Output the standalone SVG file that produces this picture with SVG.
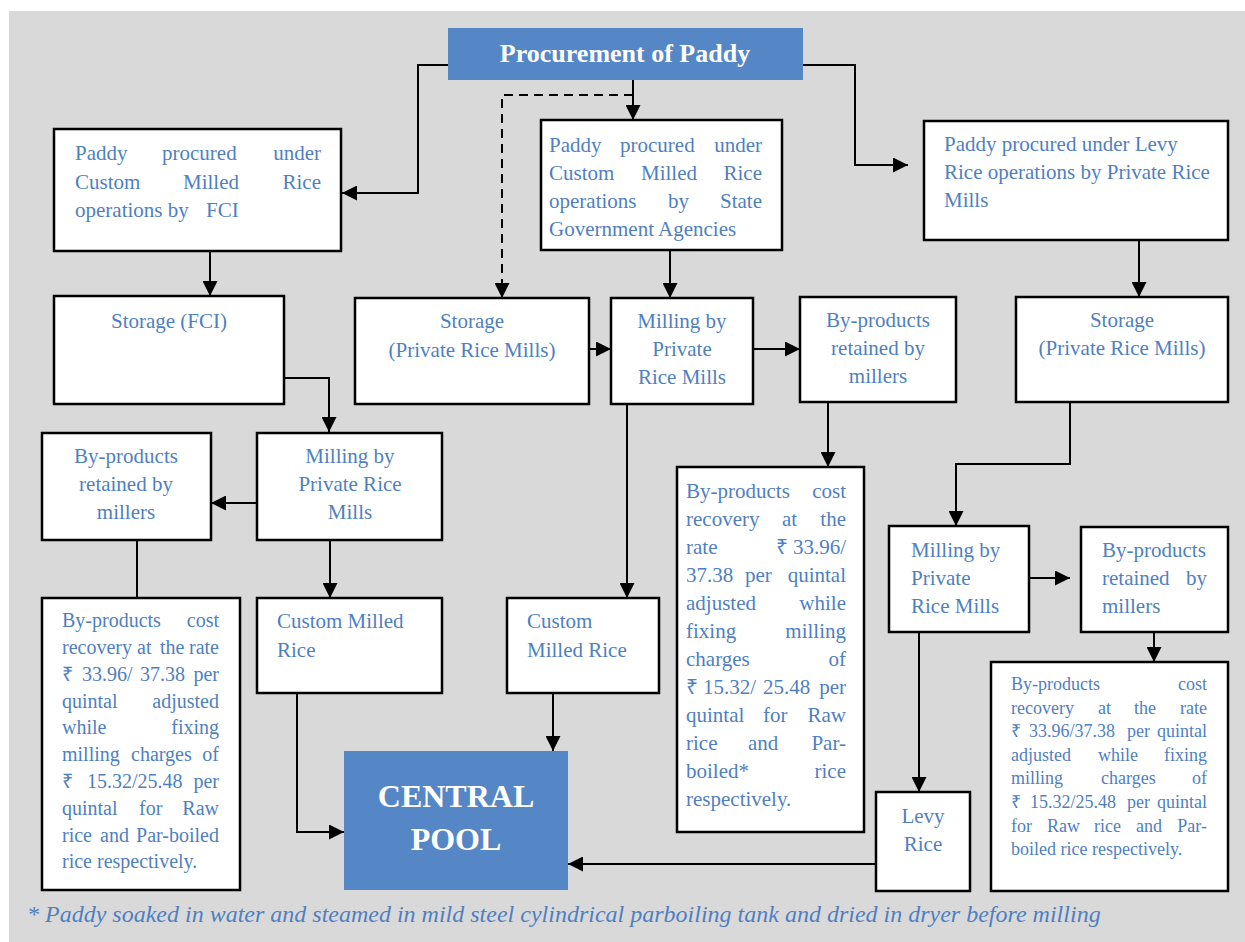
<svg xmlns="http://www.w3.org/2000/svg" width="1245" height="942" viewBox="0 0 1245 942">
<style>
.box{fill:#fff;stroke:#000;stroke-width:2.5}
.blue{fill:#5586C6}
.t{font-family:"Liberation Serif","Times New Roman",serif;font-size:21px;fill:#4F7FC1}
.s20{font-size:20px}
.s18{font-size:18px}
.c{text-anchor:middle}
.e{text-anchor:end}
.hd{font-family:"Liberation Serif","Times New Roman",serif;font-weight:bold;fill:#fff}
.ln{fill:none;stroke:#000;stroke-width:2}
.fn{font-family:"Liberation Serif","Times New Roman",serif;font-style:italic;font-size:24px;fill:#4F7FC1}
</style>
<defs>
<marker id="ah" viewBox="0 0 10 10" refX="10" refY="5" markerWidth="15" markerHeight="15" markerUnits="userSpaceOnUse" orient="auto"><path d="M0,0 L10,5 L0,10 z" fill="#000"/></marker>
</defs>
<rect x="0" y="0" width="1245" height="942" fill="#fff"/>
<rect x="9" y="11" width="1236" height="931" fill="#D9D9D9"/>

<g id="connectors">
<polyline class="ln" points="448,65 418,65 418,193 342,193" marker-end="url(#ah)"/>
<line class="ln" x1="633" y1="80" x2="633" y2="120" marker-end="url(#ah)"/>
<polyline class="ln" points="633,95 502,95 502,298" stroke-dasharray="9,6" marker-end="url(#ah)"/>
<polyline class="ln" points="803,65 855,65 855,165 908,165" marker-end="url(#ah)"/>
<line class="ln" x1="210" y1="251" x2="210" y2="296" marker-end="url(#ah)"/>
<polyline class="ln" points="284,378 329,378 329,432" marker-end="url(#ah)"/>
<line class="ln" x1="257" y1="503" x2="211" y2="503" marker-end="url(#ah)"/>
<line class="ln" x1="330" y1="540" x2="330" y2="598" marker-end="url(#ah)"/>
<line class="ln" x1="137" y1="540" x2="137" y2="598"/>
<polyline class="ln" points="297,693 297,832 344,832" marker-end="url(#ah)"/>
<line class="ln" x1="670" y1="250" x2="670" y2="298" marker-end="url(#ah)"/>
<line class="ln" x1="589" y1="349" x2="611" y2="349" marker-end="url(#ah)"/>
<line class="ln" x1="753" y1="349" x2="800" y2="349" marker-end="url(#ah)"/>
<line class="ln" x1="627" y1="404" x2="627" y2="598" marker-end="url(#ah)"/>
<line class="ln" x1="828" y1="402" x2="828" y2="467" marker-end="url(#ah)"/>
<line class="ln" x1="553" y1="693" x2="553" y2="751" marker-end="url(#ah)"/>
<line class="ln" x1="1139" y1="240" x2="1139" y2="297" marker-end="url(#ah)"/>
<polyline class="ln" points="1070,402 1070,464 956,464 956,526" marker-end="url(#ah)"/>
<line class="ln" x1="1029" y1="578" x2="1070" y2="578" marker-end="url(#ah)"/>
<line class="ln" x1="1154" y1="632" x2="1154" y2="662" marker-end="url(#ah)"/>
<line class="ln" x1="919" y1="632" x2="919" y2="792" marker-end="url(#ah)"/>
<line class="ln" x1="876" y1="864" x2="568" y2="864" marker-end="url(#ah)"/>
</g>

<g id="procurement">
<rect class="blue" x="448" y="28" width="355" height="52"/>
<text class="hd c" x="625" y="62" font-size="26">Procurement of Paddy</text>
</g>

<g id="cmr-fci">
<rect class="box" x="54" y="129" width="287" height="122"/>
<text class="t"><tspan x="75" y="160">Paddy</tspan><tspan x="162" y="160">procured</tspan><tspan x="321" y="160" text-anchor="end">under</tspan></text>
<text class="t"><tspan x="75" y="189">Custom</tspan><tspan x="183" y="189">Milled</tspan><tspan x="321" y="189" text-anchor="end">Rice</tspan></text>
<text class="t"><tspan x="75" y="217">operations by</tspan><tspan x="206" y="217">FCI</tspan></text>
</g>

<g id="storage-fci">
<rect class="box" x="54" y="296" width="230" height="108"/>
<text class="t c" x="169" y="328">Storage (FCI)</text>
</g>

<g id="byprod-left">
<rect class="box" x="42" y="433" width="169" height="107"/>
<text class="t c" x="126" y="463">By-products</text>
<text class="t c" x="126" y="491">retained by</text>
<text class="t c" x="126" y="519">millers</text>
</g>

<g id="milling-left">
<rect class="box" x="257" y="433" width="185" height="107"/>
<text class="t c" x="350" y="463">Milling by</text>
<text class="t c" x="350" y="491">Private Rice</text>
<text class="t c" x="350" y="519">Mills</text>
</g>

<g id="cost-left">
<rect class="box" x="42" y="598" width="198" height="292"/>
<text class="t s20"><tspan x="62" y="627">By-products</tspan><tspan x="219" y="627" text-anchor="end">cost</tspan></text>
<text class="t s20"><tspan x="62" y="654">recovery</tspan><tspan x="137" y="654">at</tspan><tspan x="160" y="654">the</tspan><tspan x="219" y="654" text-anchor="end">rate</tspan></text>
<text class="t s20"><tspan x="62" y="681">₹</tspan><tspan x="82" y="681">33.96/</tspan><tspan x="140" y="681">37.38</tspan><tspan x="219" y="681" text-anchor="end">per</tspan></text>
<text class="t s20"><tspan x="62" y="708">quintal</tspan><tspan x="219" y="708" text-anchor="end">adjusted</tspan></text>
<text class="t s20"><tspan x="62" y="734">while</tspan><tspan x="219" y="734" text-anchor="end">fixing</tspan></text>
<text class="t s20"><tspan x="62" y="761">milling</tspan><tspan x="131" y="761">charges</tspan><tspan x="219" y="761" text-anchor="end">of</tspan></text>
<text class="t s20"><tspan x="62" y="788">₹</tspan><tspan x="87" y="788">15.32/25.48</tspan><tspan x="219" y="788" text-anchor="end">per</tspan></text>
<text class="t s20"><tspan x="62" y="815">quintal</tspan><tspan x="139" y="815">for</tspan><tspan x="219" y="815" text-anchor="end">Raw</tspan></text>
<text class="t s20"><tspan x="62" y="842">rice</tspan><tspan x="100" y="842">and</tspan><tspan x="219" y="842" text-anchor="end">Par-boiled</tspan></text>
<text class="t s20"><tspan x="62" y="868">rice respectively.</tspan></text>
</g>

<g id="cmr-left">
<rect class="box" x="257" y="598" width="185" height="95"/>
<text class="t"><tspan x="277" y="628">Custom Milled</tspan><tspan x="277" y="657">Rice</tspan></text>
</g>

<g id="central-pool">
<rect class="blue" x="344" y="751" width="224" height="139"/>
<text class="hd c" x="456" y="807" font-size="32">CENTRAL</text>
<text class="hd c" x="456" y="850" font-size="32">POOL</text>
</g>

<g id="cmr-sga">
<rect class="box" x="541" y="120" width="241" height="130"/>
<text class="t"><tspan x="549" y="152">Paddy</tspan><tspan x="620" y="152">procured</tspan><tspan x="762" y="152" text-anchor="end">under</tspan></text>
<text class="t"><tspan x="549" y="180">Custom</tspan><tspan x="641" y="180">Milled</tspan><tspan x="762" y="180" text-anchor="end">Rice</tspan></text>
<text class="t"><tspan x="549" y="208">operations</tspan><tspan x="668" y="208">by</tspan><tspan x="762" y="208" text-anchor="end">State</tspan></text>
<text class="t"><tspan x="549" y="236">Government Agencies</tspan></text>
</g>

<g id="storage-mid">
<rect class="box" x="355" y="298" width="234" height="106"/>
<text class="t c" x="472" y="328">Storage</text>
<text class="t c" x="472" y="357">(Private Rice Mills)</text>
</g>

<g id="milling-mid">
<rect class="box" x="611" y="298" width="142" height="106"/>
<text class="t c" x="682" y="328">Milling by</text>
<text class="t c" x="682" y="356">Private</text>
<text class="t c" x="682" y="384">Rice Mills</text>
</g>

<g id="byprod-mid">
<rect class="box" x="800" y="297" width="156" height="105"/>
<text class="t c" x="878" y="327">By-products</text>
<text class="t c" x="878" y="355">retained by</text>
<text class="t c" x="878" y="383">millers</text>
</g>

<g id="cmr-mid">
<rect class="box" x="507" y="598" width="152" height="95"/>
<text class="t"><tspan x="527" y="628">Custom</tspan><tspan x="527" y="657">Milled Rice</tspan></text>
</g>

<g id="cost-mid">
<rect class="box" x="677" y="467" width="187" height="365"/>
<text class="t"><tspan x="686" y="498">By-products</tspan><tspan x="846" y="498" text-anchor="end">cost</tspan></text>
<text class="t"><tspan x="686" y="526">recovery</tspan><tspan x="782" y="526">at</tspan><tspan x="846" y="526" text-anchor="end">the</tspan></text>
<text class="t"><tspan x="686" y="554">rate</tspan><tspan x="846" y="554" text-anchor="end">₹ 33.96/</tspan></text>
<text class="t"><tspan x="686" y="582">37.38</tspan><tspan x="745" y="582">per</tspan><tspan x="846" y="582" text-anchor="end">quintal</tspan></text>
<text class="t"><tspan x="686" y="610">adjusted</tspan><tspan x="846" y="610" text-anchor="end">while</tspan></text>
<text class="t"><tspan x="686" y="638">fixing</tspan><tspan x="846" y="638" text-anchor="end">milling</tspan></text>
<text class="t"><tspan x="686" y="666">charges</tspan><tspan x="846" y="666" text-anchor="end">of</tspan></text>
<text class="t"><tspan x="686" y="694">₹</tspan><tspan x="703" y="694">15.32/</tspan><tspan x="763" y="694">25.48</tspan><tspan x="846" y="694" text-anchor="end">per</tspan></text>
<text class="t"><tspan x="686" y="722">quintal</tspan><tspan x="763" y="722">for</tspan><tspan x="846" y="722" text-anchor="end">Raw</tspan></text>
<text class="t"><tspan x="686" y="750">rice</tspan><tspan x="748" y="750">and</tspan><tspan x="846" y="750" text-anchor="end">Par-</tspan></text>
<text class="t"><tspan x="686" y="778">boiled*</tspan><tspan x="846" y="778" text-anchor="end">rice</tspan></text>
<text class="t"><tspan x="686" y="806">respectively.</tspan></text>
</g>

<g id="levy-procured">
<rect class="box" x="924" y="121" width="304" height="119"/>
<text class="t"><tspan x="944" y="151">Paddy procured under Levy</tspan><tspan x="944" y="179">Rice operations by Private Rice</tspan><tspan x="944" y="207">Mills</tspan></text>
</g>

<g id="storage-right">
<rect class="box" x="1016" y="297" width="212" height="105"/>
<text class="t c" x="1122" y="327">Storage</text>
<text class="t c" x="1122" y="355">(Private Rice Mills)</text>
</g>

<g id="milling-right">
<rect class="box" x="889" y="526" width="140" height="106"/>
<text class="t"><tspan x="911" y="557">Milling by</tspan><tspan x="911" y="585">Private</tspan><tspan x="911" y="613">Rice Mills</tspan></text>
</g>

<g id="byprod-right">
<rect class="box" x="1081" y="527" width="147" height="105"/>
<text class="t"><tspan x="1102" y="557">By-products</tspan></text>
<text class="t"><tspan x="1102" y="585">retained</tspan><tspan x="1207" y="585" text-anchor="end">by</tspan></text>
<text class="t"><tspan x="1102" y="613">millers</tspan></text>
</g>

<g id="cost-right">
<rect class="box" x="991" y="662" width="237" height="229"/>
<text class="t s18"><tspan x="1011" y="690">By-products</tspan><tspan x="1207" y="690" text-anchor="end">cost</tspan></text>
<text class="t s18"><tspan x="1011" y="714">recovery</tspan><tspan x="1098" y="714">at</tspan><tspan x="1134" y="714">the</tspan><tspan x="1207" y="714" text-anchor="end">rate</tspan></text>
<text class="t s18"><tspan x="1011" y="737">₹</tspan><tspan x="1029" y="737">33.96/37.38</tspan><tspan x="1127" y="737">per</tspan><tspan x="1207" y="737" text-anchor="end">quintal</tspan></text>
<text class="t s18"><tspan x="1011" y="761">adjusted</tspan><tspan x="1098" y="761">while</tspan><tspan x="1207" y="761" text-anchor="end">fixing</tspan></text>
<text class="t s18"><tspan x="1011" y="784">milling</tspan><tspan x="1101" y="784">charges</tspan><tspan x="1207" y="784" text-anchor="end">of</tspan></text>
<text class="t s18"><tspan x="1011" y="808">₹</tspan><tspan x="1030" y="808">15.32/25.48</tspan><tspan x="1127" y="808">per</tspan><tspan x="1207" y="808" text-anchor="end">quintal</tspan></text>
<text class="t s18"><tspan x="1011" y="832">for</tspan><tspan x="1047" y="832">Raw</tspan><tspan x="1094" y="832">rice</tspan><tspan x="1136" y="832">and</tspan><tspan x="1207" y="832" text-anchor="end">Par-</tspan></text>
<text class="t s18"><tspan x="1011" y="855">boiled rice respectively.</tspan></text>
</g>

<g id="levy-rice">
<rect class="box" x="876" y="792" width="94" height="99"/>
<text class="t c" x="923" y="823">Levy</text>
<text class="t c" x="923" y="851">Rice</text>
</g>

<g id="footnote">
<text class="fn" x="27" y="922">* Paddy soaked in water and steamed in mild steel cylindrical parboiling tank and dried in dryer before milling</text>
</g>
</svg>
